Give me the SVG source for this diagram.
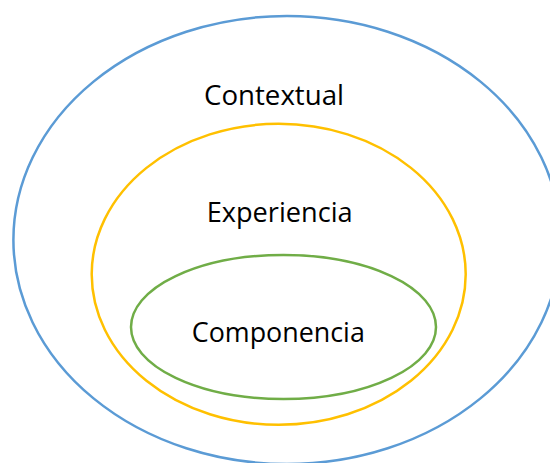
<svg xmlns="http://www.w3.org/2000/svg" width="550" height="463" viewBox="0 0 550 463">
  <style>
    .ring { fill: none; stroke-width: 2.5; }
    .lbl { font-family: "Open Sans", "Liberation Sans", sans-serif; font-size: 28px; fill: #000000; text-anchor: middle; }
  </style>
  <rect width="550" height="463" fill="#ffffff"/>
  <g id="contextual">
    <ellipse class="ring" cx="287" cy="240" rx="273.6" ry="224" stroke="#5B9BD5"/>
    <text class="lbl" x="274" y="105" textLength="140" lengthAdjust="spacingAndGlyphs">Contextual</text>
  </g>
  <g id="experiencia">
    <ellipse class="ring" cx="278.7" cy="274.3" rx="187" ry="150.5" stroke="#FFC000"/>
    <text class="lbl" x="279.7" y="222.3" textLength="146" lengthAdjust="spacingAndGlyphs">Experiencia</text>
  </g>
  <g id="componencia">
    <ellipse class="ring" cx="283.5" cy="327" rx="152.5" ry="72" stroke="#70AD47"/>
    <text class="lbl" x="278.3" y="341.7" textLength="173" lengthAdjust="spacingAndGlyphs">Componencia</text>
  </g>
  <g id="connectors"></g>
</svg>
